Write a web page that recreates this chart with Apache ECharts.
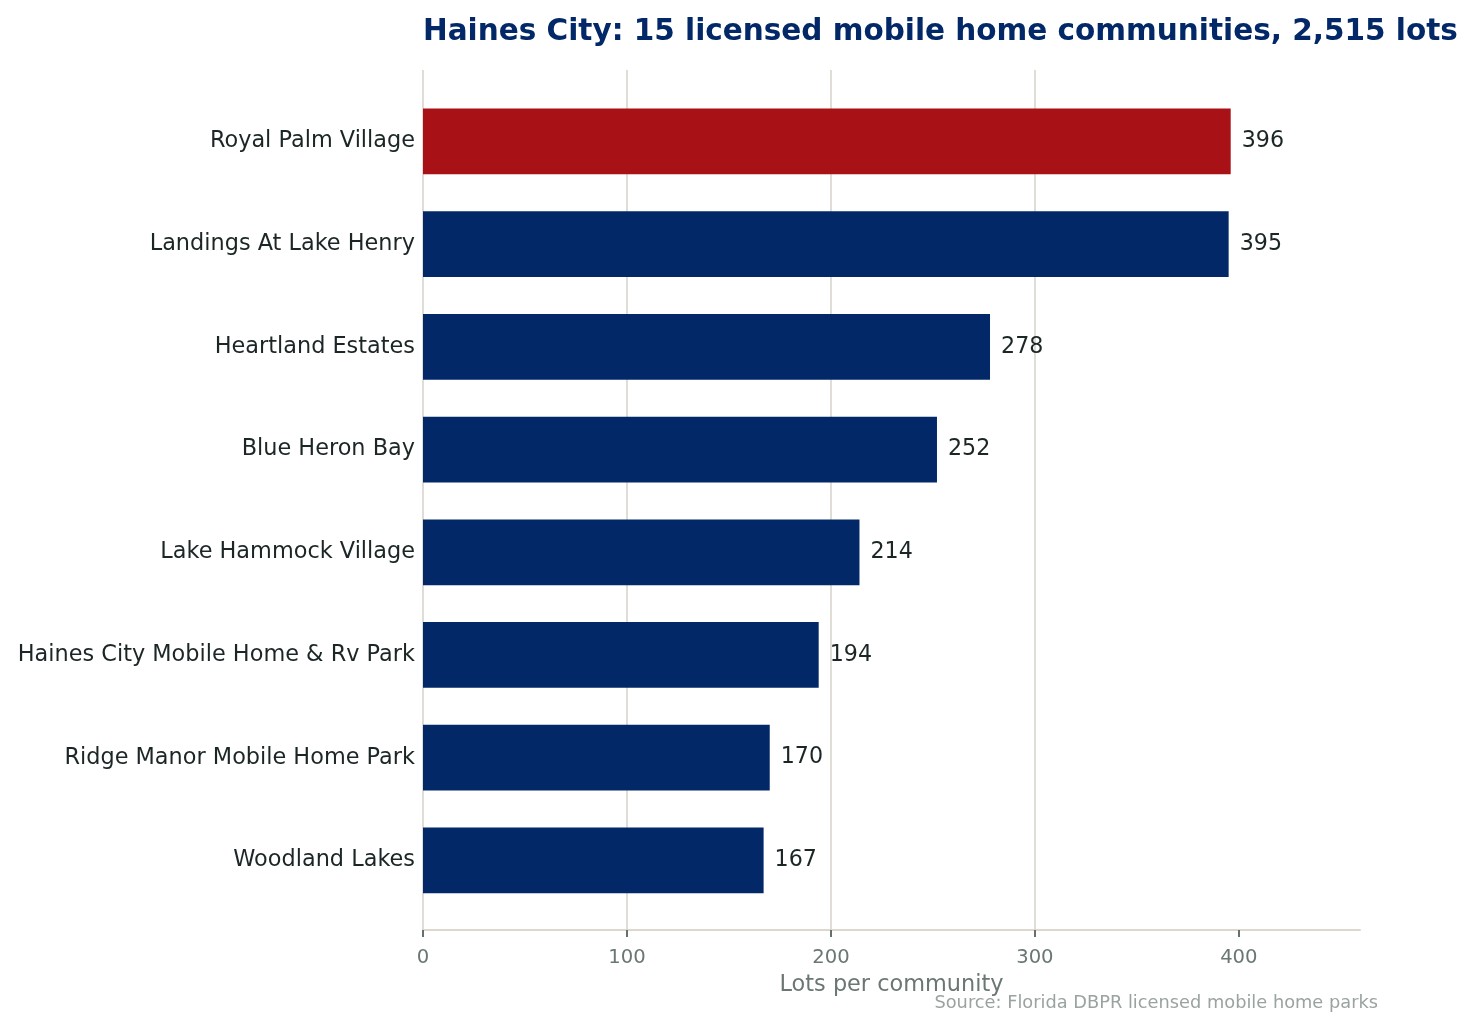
<!DOCTYPE html>
<html lang="en">
<head>
    <meta charset="UTF-8">
    <title>Haines City mobile home communities</title>
    <script src="https://cdn.jsdelivr.net/npm/echarts@6/dist/echarts.min.js"></script>
    <style>
        html, body { margin: 0; padding: 0; background: #fff; }
        #main { width: 1474px; height: 1030px; }
    </style>
</head>
<body>
    <div id="main"></div>

    <script type="text/javascript">
        // data, top to bottom
        var communities = [
            'Royal Palm Village',
            'Landings At Lake Henry',
            'Heartland Estates',
            'Blue Heron Bay',
            'Lake Hammock Village',
            'Haines City Mobile Home & Rv Park',
            'Ridge Manor Mobile Home Park',
            'Woodland Lakes'
        ];
        var lots = [396, 395, 278, 252, 214, 194, 170, 167];
        var xTicks = [0, 100, 200, 300, 400];

        var navy = '#022868';
        var red = '#a81115';
        var font = 'DejaVu Sans';
        var xMax = 459.4;

        var myChart = echarts.init(document.getElementById('main'));

        var barData = lots.map(function (v, i) {
            return {
                value: v,
                itemStyle: { color: i === 0 ? red : navy }
            };
        });

        var option = {
            backgroundColor: '#fff',
            animation: false,
            textStyle: { fontFamily: font },
            title: {
                text: 'Haines City: 15 licensed mobile home communities, 2,515 lots',
                left: 418,
                top: 12,
                textStyle: {
                    fontFamily: font,
                    fontSize: 29.5,
                    fontWeight: 'bold',
                    color: navy
                }
            },
            graphic: [{
                type: 'text',
                right: 96,
                top: 994,
                style: {
                    text: 'Source: Florida DBPR licensed mobile home parks',
                    fontFamily: font,
                    fontSize: 17.8,
                    fill: '#9aa3a0'
                }
            }],
            grid: [
                // frame: grid lines and x axis
                { left: 423, right: 114, top: 70, bottom: 100 },
                // bars
                { left: 423, right: 114, top: 90, bottom: 118.2 }
            ],
            xAxis: [{
                gridIndex: 0,
                type: 'value',
                min: 0,
                max: xMax,
                name: 'Lots per community',
                nameLocation: 'middle',
                nameGap: 44,
                nameTextStyle: { fontFamily: font, fontSize: 22.4, color: '#6b7772' },
                axisLine: { show: true, lineStyle: { color: '#ddd8cc', width: 2 } },
                axisTick: { show: true, length: 7, customValues: xTicks, lineStyle: { color: '#66706c', width: 2 } },
                axisLabel: { customValues: xTicks, fontFamily: font, fontSize: 19.6, color: '#6b7772', margin: 18 },
                splitLine: { show: true, showMaxLine: false, lineStyle: { color: '#e0dcd6', width: 2 } }
            }, {
                gridIndex: 1,
                type: 'value',
                min: 0,
                max: xMax,
                show: false
            }],
            yAxis: [{
                gridIndex: 0,
                type: 'value',
                show: false
            }, {
                gridIndex: 1,
                type: 'category',
                inverse: true,
                data: communities,
                axisLine: { show: false },
                axisTick: { show: false },
                splitLine: { show: false },
                axisLabel: { fontFamily: font, fontSize: 22.4, color: '#1c2626', margin: 8, padding: [3, 0, 0, 0] }
            }],
            series: [{
                type: 'bar',
                xAxisIndex: 1,
                yAxisIndex: 1,
                data: barData,
                barWidth: '64%',
                label: {
                    show: true,
                    position: 'right',
                    distance: 11,
                    padding: [3, 0, 0, 0],
                    fontFamily: font,
                    fontSize: 22.2,
                    color: '#1c2626'
                }
            }]
        };
        myChart.setOption(option);
    </script>
</body>
</html>
